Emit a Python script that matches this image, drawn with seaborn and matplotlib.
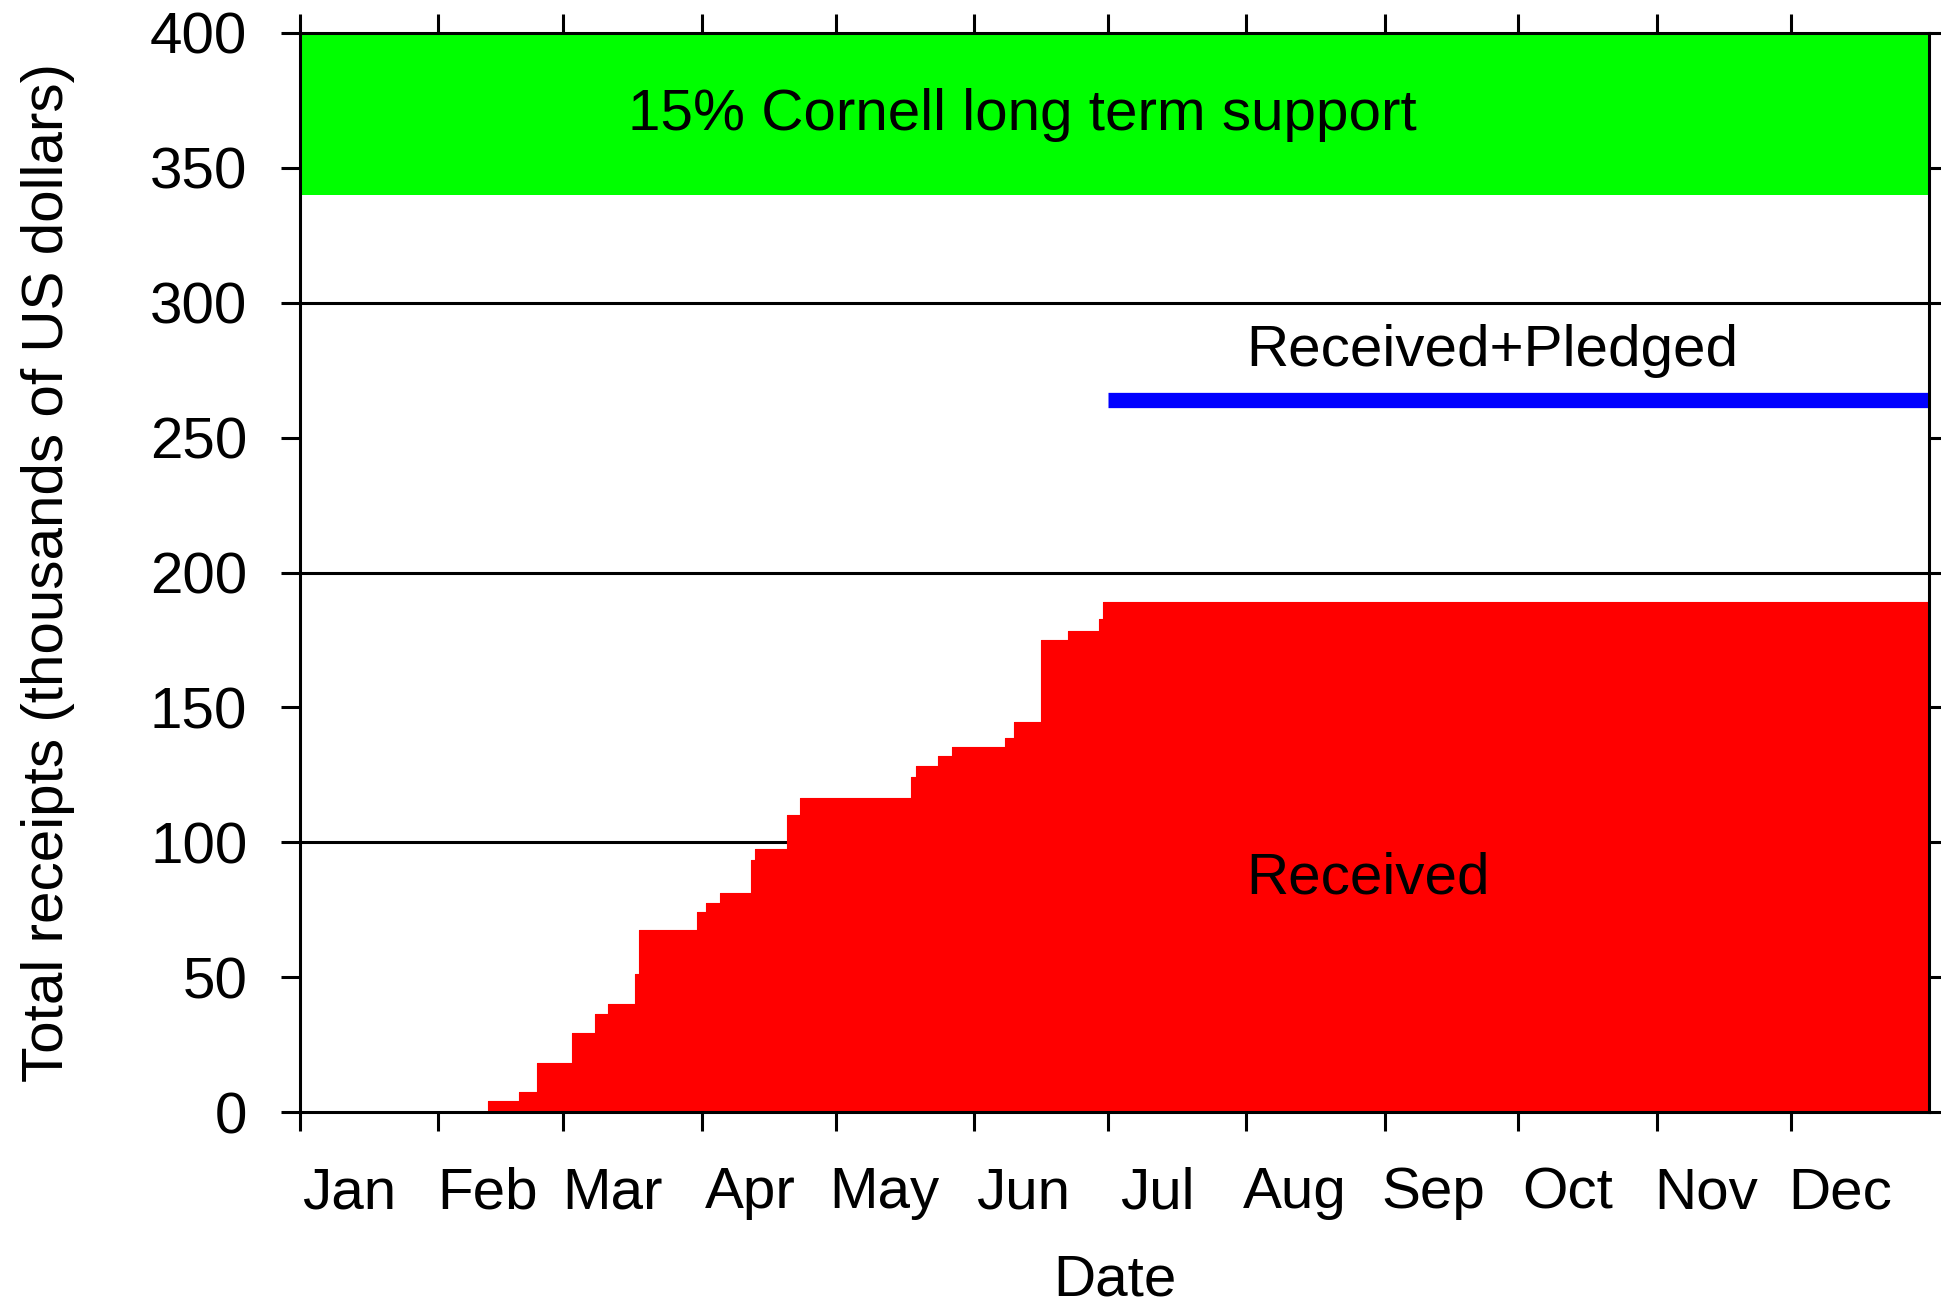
import matplotlib
matplotlib.use('Agg')
import matplotlib.pyplot as plt
import seaborn as sns
import pandas as pd

# Cumulative receipts (thousands of US dollars) by day of year
receipt_days = [0, 42, 49, 53, 61, 66, 69, 75, 76, 89, 91, 94, 101, 102, 109, 112,
                137, 138, 143, 146, 158, 160, 166, 172, 179, 180]
receipt_totals = [0, 4, 7.5, 18.3, 29.2, 36.3, 40, 51, 67.5, 74, 77.4, 81.3, 93.4, 97.4,
                  110, 116.3, 124.3, 128.3, 132, 135.2, 138.6, 144.7, 175, 178.4, 182.6, 189.1]
year_end = 365

# Received + pledged level
pledged_days = [181, 365]
pledged_totals = [264, 264]

# Cornell long term support band
support_band = [340, 400]

month_starts = [0, 31, 59, 90, 120, 151, 181, 212, 243, 273, 304, 334]
month_names = ['Jan', 'Feb', 'Mar', 'Apr', 'May', 'Jun', 'Jul', 'Aug', 'Sep', 'Oct', 'Nov', 'Dec']
y_ticks = [0, 50, 100, 150, 200, 250, 300, 350, 400]
grid_levels = [100, 200, 300]

sns.set_theme(style='white')
plt.rcParams['font.family'] = ['Liberation Sans', 'DejaVu Sans']
plt.rcParams['text.color'] = 'black'
plt.rcParams['axes.labelcolor'] = 'black'
plt.rcParams['xtick.color'] = 'black'
plt.rcParams['ytick.color'] = 'black'

fig = plt.figure(figsize=(19.41, 13.04), dpi=100)
ax = fig.add_axes([0.1546, 0.1472, 0.8392, 0.8275])

# Grid lines behind everything
for g in grid_levels:
    ax.axhline(g, color='black', lw=2.2, zorder=0)

# Green support band
ax.fill_between([0, year_end], support_band[0], support_band[1], color='#00ff00', lw=0, zorder=1)

# Red received area
df = pd.DataFrame({'day': receipt_days + [year_end],
                   'total': receipt_totals + [receipt_totals[-1]]})
ax.fill_between(df['day'], df['total'], step='post', color='#ff0000', lw=0, zorder=2)
sns.lineplot(x='day', y='total', data=df, drawstyle='steps-post', color='#ff0000',
             lw=0.8, ax=ax, zorder=2)

# Blue pledged line
pledge_df = pd.DataFrame({'day': pledged_days, 'total': pledged_totals})
sns.lineplot(x='day', y='total', data=pledge_df, color='#0000ff', lw=11, ax=ax,
             solid_capstyle='butt', zorder=3)

# Labels
ax.text(73.5, 369.5, '15% Cornell long term support', fontsize=42, ha='left', va='center', zorder=4)
ax.text(212, 282.3, 'Received+Pledged', fontsize=42, ha='left', va='center', zorder=4)
ax.text(212, 86.5, 'Received', fontsize=42, ha='left', va='center', zorder=4)

ax.set_xlim(0, year_end)
ax.set_ylim(0, 400)

# Month ticks: major at month start, labels at mid-month position
ax.set_xticks(month_starts)
ax.set_xticklabels([])
ax.set_xticks([m + 11 for m in month_starts], minor=True)
ax.set_xticklabels(month_names, minor=True)
ax.tick_params(axis='x', which='major', direction='out', length=14, width=2.2,
               top=True, bottom=True, color='black')
ax.tick_params(axis='x', which='minor', length=0, pad=39, labelsize=42)

ax.set_yticks(y_ticks)
ax.set_yticklabels([str(v) for v in y_ticks])
ax.tick_params(axis='y', which='major', direction='out', length=14, width=2.2,
               left=True, right=True, pad=24, labelsize=42, color='black')

for s in ax.spines.values():
    s.set_visible(True)
    s.set_color('black')
    s.set_linewidth(2.2)
    s.set_zorder(5)

ax.set_xlabel('Date', fontsize=42, labelpad=24)
ax.set_ylabel('Total receipts (thousands of US dollars)', fontsize=42, labelpad=54)

fig.savefig('out.png', dpi=100)
